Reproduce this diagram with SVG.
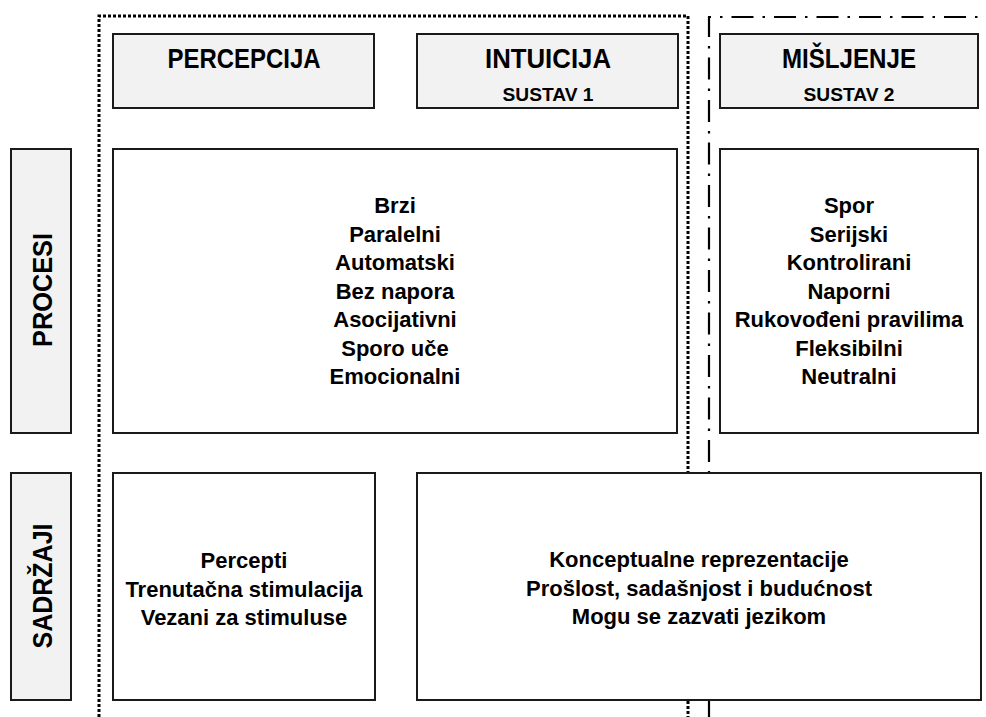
<svg xmlns="http://www.w3.org/2000/svg" width="986" height="717" viewBox="0 0 986 717">
<style>
.box{fill:#ffffff;stroke:#1a1a1a;stroke-width:2}
.hdr{fill:#f2f2f2;stroke:#1a1a1a;stroke-width:2}
text{font-family:"Liberation Sans",Arial,sans-serif;font-weight:bold;fill:#000;text-anchor:middle}
.big{font-size:28px}
.sub{font-size:19px}
.body{font-size:22px}
.dotted{fill:none;stroke:#000;stroke-width:3;stroke-dasharray:3 2}
.dashdot{fill:none;stroke:#000;stroke-width:2.2;stroke-dasharray:22 9 2.5 9}
</style>
<rect width="986" height="717" fill="#ffffff"/>
<g id="connectors">
<path class="dotted" d="M99,717 V16 H688 V717"/>
<path class="dashdot" d="M709,717 V17 H986"/>
</g>
<g id="percepcija">
<rect class="hdr" x="113" y="34" width="261" height="74"/>
<text class="big" x="244" y="68" textLength="153" lengthAdjust="spacingAndGlyphs">PERCEPCIJA</text>
</g>
<g id="intuicija">
<rect class="hdr" x="417" y="34" width="261" height="74"/>
<text class="big" x="548" y="68" textLength="126" lengthAdjust="spacingAndGlyphs">INTUICIJA</text>
<text class="sub" x="548" y="101" textLength="91" lengthAdjust="spacingAndGlyphs">SUSTAV 1</text>
</g>
<g id="misljenje">
<rect class="hdr" x="720" y="34" width="258" height="74"/>
<text class="big" x="849" y="68" textLength="134" lengthAdjust="spacingAndGlyphs">MIŠLJENJE</text>
<text class="sub" x="849" y="101" textLength="91" lengthAdjust="spacingAndGlyphs">SUSTAV 2</text>
</g>
<g id="procesi">
<rect class="hdr" x="11" y="149" width="60" height="284"/>
<text class="big" transform="translate(52,290) rotate(-90)" x="0" y="0" textLength="114" lengthAdjust="spacingAndGlyphs">PROCESI</text>
</g>
<g id="sadrzaji">
<rect class="hdr" x="11" y="473" width="60" height="227"/>
<text class="big" transform="translate(52,586) rotate(-90)" x="0" y="0" textLength="125" lengthAdjust="spacingAndGlyphs">SADRŽAJI</text>
</g>
<g id="procesi-sustav1">
<rect class="box" x="113" y="149" width="564" height="284"/>
<text class="body" x="395" y="213">Brzi</text>
<text class="body" x="395" y="241.5">Paralelni</text>
<text class="body" x="395" y="270">Automatski</text>
<text class="body" x="395" y="298.5">Bez napora</text>
<text class="body" x="395" y="327">Asocijativni</text>
<text class="body" x="395" y="355.5">Sporo uče</text>
<text class="body" x="395" y="384">Emocionalni</text>
</g>
<g id="procesi-sustav2">
<rect class="box" x="720" y="149" width="258" height="284"/>
<text class="body" x="849" y="213">Spor</text>
<text class="body" x="849" y="241.5">Serijski</text>
<text class="body" x="849" y="270">Kontrolirani</text>
<text class="body" x="849" y="298.5">Naporni</text>
<text class="body" x="849" y="327">Rukovođeni pravilima</text>
<text class="body" x="849" y="355.5">Fleksibilni</text>
<text class="body" x="849" y="384">Neutralni</text>
</g>
<g id="sadrzaji-percepcija">
<rect class="box" x="113" y="473" width="262" height="227"/>
<text class="body" x="244" y="568">Percepti</text>
<text class="body" x="244" y="596.5">Trenutačna stimulacija</text>
<text class="body" x="244" y="625">Vezani za stimuluse</text>
</g>
<g id="sadrzaji-konceptualni">
<rect class="box" x="417" y="473" width="564" height="227"/>
<text class="body" x="699" y="567">Konceptualne reprezentacije</text>
<text class="body" x="699" y="595.5">Prošlost, sadašnjost i budućnost</text>
<text class="body" x="699" y="624">Mogu se zazvati jezikom</text>
</g>
</svg>
